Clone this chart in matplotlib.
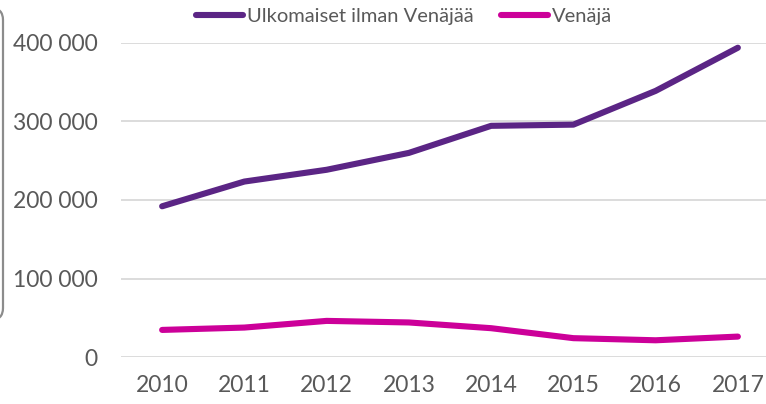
import matplotlib
matplotlib.use("Agg")
import matplotlib.pyplot as plt
from matplotlib.patches import FancyBboxPatch
from matplotlib.ticker import FuncFormatter

years = ["2010", "2011", "2012", "2013", "2014", "2015", "2016", "2017"]
ulkomaiset = [192000, 223500, 238500, 260000, 294500, 296000, 339000, 394000]
venaja = [34500, 37500, 46000, 44000, 36700, 24000, 21300, 26000]
series_names = ["Ulkomaiset ilman Venäjää", "Venäjä"]
colors = ["#5B2585", "#CC0099"]

plt.rcParams['font.family'] = ['Lato', 'DejaVu Sans']
text_color = "#595959"

fig = plt.figure(figsize=(7.66, 4.04), dpi=100)
ax = fig.add_axes([121/766, 47/404, 658/766, 314/404])
x = list(range(len(years)))
for vals, name, c in zip([ulkomaiset, venaja], series_names, colors):
    ax.plot(x, vals, color=c, lw=4.4, solid_capstyle='round', solid_joinstyle='round',
            label=name, clip_on=False)

ax.set_xlim(-0.5, len(years) - 0.5)
ax.set_ylim(0, 400000)
ax.set_yticks([0, 100000, 200000, 300000, 400000])
ax.yaxis.set_major_formatter(FuncFormatter(lambda v, p: f"{int(v):,}".replace(",", " ")))
ax.set_xticks(x)
ax.set_xticklabels(years)
ax.grid(axis='y', color="#D9D9D9", lw=1.3)
ax.set_axisbelow(True)
for s in ax.spines.values():
    s.set_visible(False)
ax.tick_params(axis='both', length=0, labelsize=16.5, colors=text_color)
ax.tick_params(axis='y', pad=17)
ax.tick_params(axis='x', pad=13)

leg = fig.legend(loc='center', bbox_to_anchor=(404/766, 1 - 16/404), ncol=2, frameon=False,
                 fontsize=14.5, handlelength=2.3, handletextpad=0.2, columnspacing=1.4,
                 labelcolor=text_color)

# partial rounded frame at left edge
box = FancyBboxPatch((-60, 84), 63, 312, boxstyle="round,pad=0,rounding_size=12",
                     transform=None, fill=False, edgecolor="#8C8C8C", lw=1.6)
fig.patches.append(box)

fig.savefig("out.png", dpi=100)
